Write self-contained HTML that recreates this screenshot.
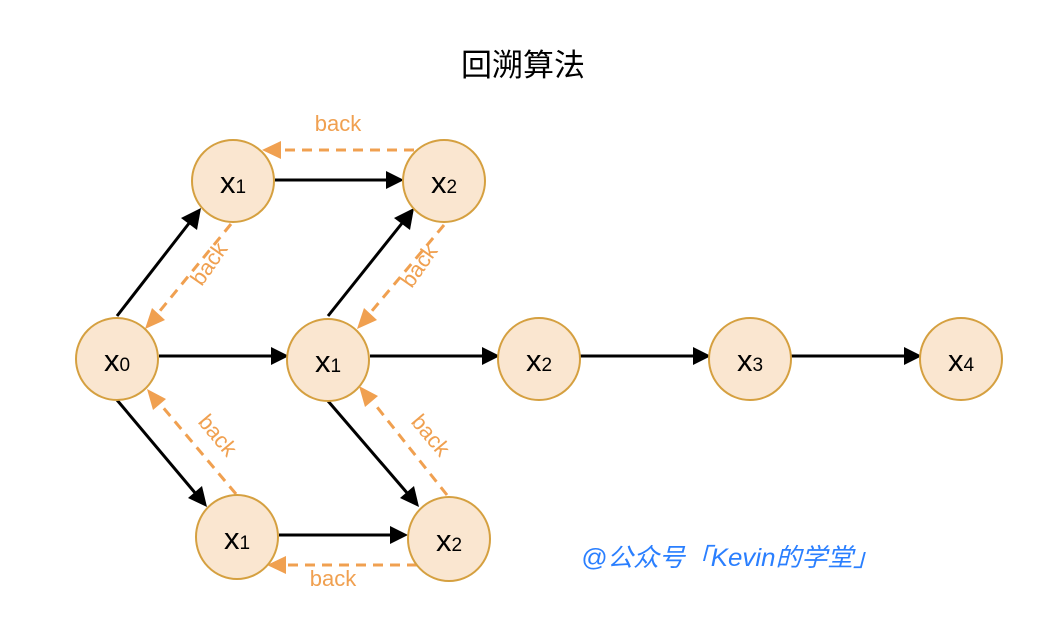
<!DOCTYPE html>
<html><head><meta charset="utf-8"><style>
html,body{margin:0;padding:0;background:#fff;}
svg{display:block;}
</style></head><body>
<svg width="1062" height="632" viewBox="0 0 1062 632" xmlns="http://www.w3.org/2000/svg">
<style>
.n{fill:#FAE6D0;stroke:#D5A040;stroke-width:2;}
.bl{stroke:#000;stroke-width:3;fill:none;}
.or{stroke:#F0A050;stroke-width:3;fill:none;stroke-dasharray:10,7;}
.t{font-family:"Liberation Sans",sans-serif;font-size:31px;fill:#000;text-anchor:middle;}
.s{font-size:19px;}
.b{font-family:"Liberation Sans",sans-serif;font-size:22px;fill:#F0A050;text-anchor:middle;}
</style>
<text x="523" y="76" font-family="'Noto Sans CJK SC',sans-serif" font-size="31" font-weight="400" text-anchor="middle" fill="#000">回溯算法</text>

<line class="bl" x1="117" y1="316" x2="190" y2="222"/><polygon points="201,208 181,218 197,230" fill="#000"/>
<line class="bl" x1="275" y1="180" x2="388" y2="180"/><polygon points="404,180 386,171 386,189" fill="#000"/>
<line class="bl" x1="159" y1="356" x2="273" y2="356"/><polygon points="289,356 271,347 271,365" fill="#000"/>
<line class="bl" x1="328" y1="316" x2="403" y2="222"/><polygon points="414,208 394,218 410,230" fill="#000"/>
<line class="bl" x1="370" y1="356" x2="484" y2="356"/><polygon points="500,356 482,347 482,365" fill="#000"/>
<line class="bl" x1="580" y1="356" x2="695" y2="356"/><polygon points="711,356 693,347 693,365" fill="#000"/>
<line class="bl" x1="791" y1="356" x2="906" y2="356"/><polygon points="922,356 904,347 904,365" fill="#000"/>
<line class="bl" x1="117" y1="400" x2="196" y2="494"/><polygon points="207,507 202,486 188,498" fill="#000"/>
<line class="bl" x1="328" y1="401" x2="408" y2="494"/><polygon points="419,507 414,486 400,498" fill="#000"/>
<line class="bl" x1="279" y1="535" x2="392" y2="535"/><polygon points="408,535 390,526 390,544" fill="#000"/>

<line class="or" x1="414" y1="150" x2="279" y2="150"/><polygon points="262,150 281,141 281,159" fill="#F0A050"/>
<line class="or" x1="231" y1="224" x2="159" y2="312"/><polygon points="145,329 165,320 152,308" fill="#F0A050"/>
<line class="or" x1="444" y1="225" x2="371" y2="312"/><polygon points="357,329 377,320 364,308" fill="#F0A050"/>
<line class="or" x1="236" y1="494" x2="161" y2="405"/><polygon points="147,389 153,410 166,399" fill="#F0A050"/>
<line class="or" x1="447" y1="495" x2="373" y2="402"/><polygon points="359,386 365,407 378,396" fill="#F0A050"/>
<line class="or" x1="417" y1="565" x2="284" y2="565"/><polygon points="267,565 286,556 286,574" fill="#F0A050"/>

<text class="b" x="338" y="131">back</text>
<text class="b" transform="translate(215,268) rotate(-55)">back</text>
<text class="b" transform="translate(425,270) rotate(-55)">back</text>
<text class="b" transform="translate(212,440) rotate(50)">back</text>
<text class="b" transform="translate(425,440) rotate(50)">back</text>
<text class="b" x="333" y="586">back</text>

<circle class="n" cx="233" cy="181" r="41"/><text class="t" x="233" y="193">x<tspan class="s">1</tspan></text>
<circle class="n" cx="444" cy="181" r="41"/><text class="t" x="444" y="193">x<tspan class="s">2</tspan></text>
<circle class="n" cx="117" cy="359" r="41"/><text class="t" x="117" y="371">x<tspan class="s">0</tspan></text>
<circle class="n" cx="328" cy="360" r="41"/><text class="t" x="328" y="372">x<tspan class="s">1</tspan></text>
<circle class="n" cx="539" cy="359" r="41"/><text class="t" x="539" y="371">x<tspan class="s">2</tspan></text>
<circle class="n" cx="750" cy="359" r="41"/><text class="t" x="750" y="371">x<tspan class="s">3</tspan></text>
<circle class="n" cx="961" cy="359" r="41"/><text class="t" x="961" y="371">x<tspan class="s">4</tspan></text>
<ellipse class="n" cx="237" cy="537" rx="41" ry="42"/><text class="t" x="237" y="549">x<tspan class="s">1</tspan></text>
<ellipse class="n" cx="449" cy="539" rx="41" ry="42"/><text class="t" x="449" y="551">x<tspan class="s">2</tspan></text>

<text x="581" y="566" font-family="'Liberation Sans','Noto Sans CJK SC',sans-serif" font-size="25" font-style="italic" fill="#2A7FFF" textLength="298" lengthAdjust="spacingAndGlyphs">@公众号「Kevin的学堂」</text>
</svg>
</body></html>
